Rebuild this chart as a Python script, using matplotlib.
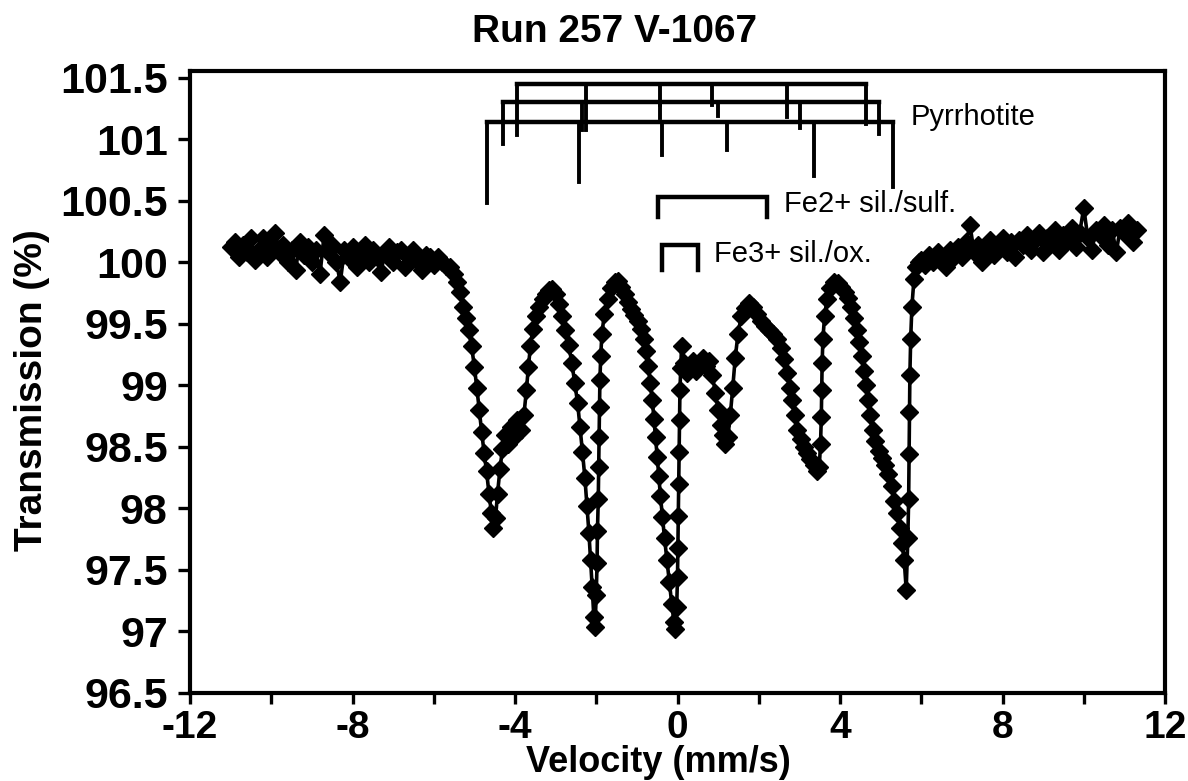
import matplotlib
matplotlib.use("Agg")
import matplotlib.pyplot as plt
import numpy as np

# ---------------- data ----------------
left_base_vel = [-11.0, -10.9, -10.8, -10.7, -10.6, -10.5, -10.4, -10.3, -10.2, -10.1,
                 -10.0, -9.9, -9.8, -9.7, -9.6, -9.5, -9.4, -9.3, -9.2, -9.1,
                 -9.0, -8.9, -8.8, -8.7, -8.6, -8.5, -8.4, -8.3, -8.2, -8.1,
                 -8.0, -7.9, -7.8, -7.7, -7.6, -7.5, -7.4, -7.3, -7.2, -7.1,
                 -7.0, -6.9, -6.8, -6.7, -6.6, -6.5, -6.4, -6.3, -6.2, -6.1,
                 -6.0, -5.9, -5.8, -5.7]
left_base_trans = [100.12, 100.16, 100.04, 100.14, 100.08, 100.20, 100.02, 100.10, 100.20, 100.04,
                   100.12, 100.24, 100.08, 100.14, 100.00, 100.10, 99.94, 100.16, 100.06, 100.12,
                   100.00, 100.10, 99.90, 100.22, 100.08, 100.14, 100.00, 99.84, 100.10, 100.04,
                   100.12, 99.96, 100.08, 100.14, 100.00, 100.10, 100.04, 99.92, 100.08, 100.12,
                   100.00, 100.08, 100.10, 99.96, 100.06, 100.10, 100.00, 99.94, 100.06, 100.04,
                   99.98, 100.04, 100.00, 99.97]

dip_vel = [-5.60, -5.50, -5.42, -5.35, -5.28, -5.21, -5.14, -5.07, -5.00, -4.94,
           -4.88, -4.82, -4.76, -4.70, -4.64, -4.58, -4.53, -4.48, -4.43, -4.37,
           -4.31, -4.24, -4.17, -4.10, -4.02, -3.94, -3.86, -3.78, -3.72, -3.67,
           -3.62, -3.56, -3.48, -3.40, -3.32, -3.24, -3.16, -3.08, -3.00, -2.92,
           -2.84, -2.76, -2.68, -2.60, -2.53, -2.46, -2.40, -2.34, -2.28, -2.23,
           -2.18, -2.14, -2.10, -2.06, -2.03,
           -2.00, -1.98, -1.97, -1.95, -1.94, -1.93, -1.92, -1.91, -1.89, -1.86,
           -1.80, -1.72, -1.63, -1.54, -1.46, -1.38, -1.30, -1.22, -1.14, -1.06,
           -0.98, -0.90, -0.83, -0.77, -0.72, -0.67, -0.62, -0.58, -0.54, -0.50,
           -0.46, -0.42, -0.37, -0.32, -0.26, -0.20, -0.14, -0.09, -0.05,
           -0.02, 0.00, 0.01, 0.02, 0.03, 0.04, 0.05, 0.06, 0.08, 0.10,
           0.16, 0.23, 0.30, 0.38, 0.46, 0.54, 0.62, 0.70, 0.78, 0.86,
           0.93, 1.00, 1.06, 1.12, 1.18, 1.24, 1.30, 1.36, 1.42, 1.49,
           1.57, 1.66, 1.76, 1.86, 1.96, 2.06, 2.16, 2.26, 2.36, 2.46,
           2.55, 2.63, 2.70, 2.76, 2.82, 2.88, 2.95, 3.03, 3.11, 3.19,
           3.27, 3.35, 3.43, 3.49,
           3.52, 3.54, 3.55, 3.56, 3.58, 3.62, 3.68, 3.76, 3.85, 3.94,
           4.03, 4.12, 4.20, 4.27, 4.34, 4.41, 4.47, 4.53, 4.58, 4.63,
           4.68, 4.74, 4.80, 4.87, 4.95, 5.03, 5.11, 5.19, 5.27, 5.34,
           5.41, 5.47, 5.53, 5.58, 5.63,
           5.67, 5.69, 5.70, 5.71, 5.72, 5.74, 5.77, 5.82, 5.88, 5.94]
dip_trans = [99.96, 99.90, 99.84, 99.76, 99.64, 99.55, 99.45, 99.32, 99.15, 98.98,
             98.80, 98.62, 98.45, 98.30, 98.12, 97.96, 97.84, 97.92, 98.12, 98.32,
             98.48, 98.60, 98.52, 98.66, 98.58, 98.72, 98.64, 98.76, 98.96, 99.15,
             99.32, 99.46, 99.56, 99.64, 99.70, 99.74, 99.77, 99.78, 99.74, 99.66,
             99.56, 99.45, 99.33, 99.18, 99.02, 98.86, 98.66, 98.46, 98.25, 98.02,
             97.80, 97.58, 97.36, 97.12, 97.04,
             97.30, 97.56, 97.82, 98.08, 98.34, 98.58, 98.82, 99.04, 99.24, 99.42,
             99.58, 99.70, 99.79, 99.84, 99.85, 99.80, 99.74, 99.68, 99.62, 99.57,
             99.52, 99.46, 99.38, 99.28, 99.16, 99.02, 98.88, 98.73, 98.58, 98.42,
             98.26, 98.10, 97.93, 97.76, 97.58, 97.40, 97.22, 97.08, 97.02,
             97.20, 97.44, 97.68, 97.94, 98.20, 98.46, 98.72, 98.96, 99.14, 99.32,
             99.18, 99.10, 99.16, 99.20, 99.12, 99.18, 99.22, 99.16, 99.20, 99.08,
             98.94, 98.80, 98.68, 98.60, 98.52, 98.58, 98.76, 98.98, 99.22, 99.42,
             99.56, 99.63, 99.67, 99.64, 99.58, 99.52, 99.48, 99.45, 99.42, 99.38,
             99.30, 99.21, 99.10, 98.98, 98.88, 98.76, 98.64, 98.56, 98.50, 98.45,
             98.40, 98.35, 98.30, 98.34,
             98.52, 98.74, 98.96, 99.18, 99.38, 99.56, 99.70, 99.79, 99.84, 99.83,
             99.80, 99.76, 99.71, 99.64, 99.55, 99.45, 99.35, 99.24, 99.12, 99.00,
             98.88, 98.76, 98.64, 98.55, 98.47, 98.41, 98.35, 98.28, 98.18, 98.06,
             97.96, 97.84, 97.72, 97.58, 97.34,
             97.76, 98.08, 98.44, 98.78, 99.08, 99.38, 99.64, 99.86, 99.96, 100.00]

right_base_vel = [6.0, 6.1, 6.2, 6.3, 6.4, 6.5, 6.6, 6.7, 6.8, 6.9,
                  7.0, 7.1, 7.2, 7.3, 7.4, 7.5, 7.6, 7.7, 7.8, 7.9,
                  8.0, 8.1, 8.2, 8.3, 8.4, 8.5, 8.6, 8.7, 8.8, 8.9,
                  9.0, 9.1, 9.2, 9.3, 9.4, 9.5, 9.6, 9.7, 9.8, 9.9,
                  10.0, 10.1, 10.2, 10.3, 10.4, 10.5, 10.6, 10.7, 10.8, 10.9,
                  11.0, 11.1, 11.2, 11.3]
right_base_trans = [100.02, 99.98, 100.06, 100.00, 100.08, 100.04, 99.96, 100.10, 100.04, 100.12,
                    100.04, 100.16, 100.30, 100.08, 100.14, 100.00, 100.12, 100.18, 100.06, 100.14,
                    100.20, 100.08, 100.16, 100.04, 100.18, 100.14, 100.22, 100.10, 100.18, 100.24,
                    100.08, 100.20, 100.16, 100.26, 100.10, 100.22, 100.18, 100.28, 100.12, 100.24,
                    100.44, 100.20, 100.10, 100.26, 100.22, 100.30, 100.14, 100.26, 100.08, 100.28,
                    100.24, 100.32, 100.16, 100.26]

# Pyrrhotite stick diagrams (three sextets): line positions, bar level, stick ends
pyr_a_pos = [-4.70, -2.42, -0.37, 1.22, 3.35, 5.30]
pyr_a_bar = 101.14
pyr_a_end = [100.48, 100.65, 100.87, 100.91, 100.70, 100.61]
pyr_b_pos = [-4.30, -2.35, -0.44, 1.00, 3.02, 4.96]
pyr_b_bar = 101.30
pyr_b_end = [100.96, 101.07, 101.17, 101.19, 101.09, 101.04]
pyr_c_pos = [-3.96, -2.25, -0.44, 0.85, 2.70, 4.63]
pyr_c_bar = 101.45
pyr_c_end = [101.03, 101.07, 101.28, 101.28, 101.18, 101.12]

# Doublet markers
fe2_pos = [-0.49, 2.21]
fe2_bar = 100.53
fe2_end = 100.37
fe3_pos = [-0.39, 0.50]
fe3_bar = 100.14
fe3_end = 99.94

x_ticks = [-12, -10, -8, -6, -4, -2, 0, 2, 4, 6, 8, 10, 12]
x_tick_labels = ["-12", "", "-8", "", "-4", "", "0", "", "4", "", "8", "", "12"]
y_ticks = [96.5, 97, 97.5, 98, 98.5, 99, 99.5, 100, 100.5, 101, 101.5]
y_tick_labels = ["96.5", "97", "97.5", "98", "98.5", "99", "99.5", "100", "100.5", "101", "101.5"]

# ---------------- figure ----------------
W, H = 1188, 781
fig = plt.figure(figsize=(W / 100, H / 100), dpi=100)
ax_left, ax_right = 190, 1165
y_bottom_px, y_top_px = 693, 71.4
ax = fig.add_axes([ax_left / W, (H - y_bottom_px) / H,
                   (ax_right - ax_left) / W, (y_bottom_px - y_top_px) / H])
ax.set_xlim(-12, 12)
ax.set_ylim(96.5, 101.55)

vel = left_base_vel + dip_vel + right_base_vel
trans = left_base_trans + dip_trans + right_base_trans
ax.plot(vel, trans, "-", color="black", lw=2.6, marker="D", ms=9,
        mfc="black", mec="black", zorder=3)

# stick diagrams
for pos, bar, ends in [(pyr_a_pos, pyr_a_bar, pyr_a_end),
                       (pyr_b_pos, pyr_b_bar, pyr_b_end),
                       (pyr_c_pos, pyr_c_bar, pyr_c_end)]:
    ax.plot([pos[0], pos[-1]], [bar, bar], color="black", lw=3.2, solid_capstyle="projecting")
    for p, e in zip(pos, ends):
        ax.plot([p, p], [bar, e], color="black", lw=2.8)

for pos, bar, end in [(fe2_pos, fe2_bar, fe2_end), (fe3_pos, fe3_bar, fe3_end)]:
    ax.plot([pos[0], pos[0], pos[1], pos[1]], [end, bar, bar, end],
            color="black", lw=3.2, solid_joinstyle="miter")

txt_font = dict(family="Liberation Sans", fontsize=21)
ax.text(5.75, 101.18, "Pyrrhotite", ha="left", va="center", **txt_font)
ax.text(2.62, 100.47, "Fe2+ sil./sulf.", ha="left", va="center", **txt_font)
ax.text(0.90, 100.07, "Fe3+ sil./ox.", ha="left", va="center", **txt_font)

# axes styling
for s in ax.spines.values():
    s.set_linewidth(3)
ax.set_xticks(x_ticks)
ax.set_xticklabels(x_tick_labels)
ax.set_yticks(y_ticks)
ax.set_yticklabels(y_tick_labels)
ax.tick_params(axis="both", direction="out", width=2.4)
ax.tick_params(axis="x", length=8, pad=4, labelsize=28)
ax.tick_params(axis="y", length=9, pad=7, labelsize=31)
for lab in ax.get_xticklabels() + ax.get_yticklabels():
    lab.set_fontfamily("Liberation Sans")
    lab.set_fontweight("bold")

bold = dict(family="Liberation Sans", fontweight="bold")
fig.text(615 / W, 1 - 32 / H, "Run 257 V-1067", ha="center", va="center", fontsize=28, **bold)
fig.text(658 / W, 1 - 762 / H, "Velocity (mm/s)", ha="center", va="center", fontsize=26, **bold)
fig.text(32 / W, 1 - 390 / H, "Transmission (%)", ha="center", va="center",
         rotation=90, fontsize=28, **bold)

fig.savefig("out.png", dpi=100)
